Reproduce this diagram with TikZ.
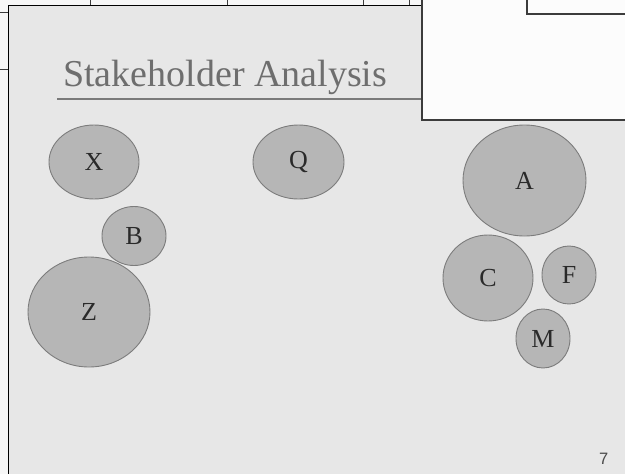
\documentclass[tikz,border=0pt]{standalone}
\usepackage{fontspec}
\setmainfont{Liberation Serif}
\newfontfamily\pagenumfont{Liberation Sans}
\usetikzlibrary{shapes.geometric}
\definecolor{slidebg}{HTML}{E7E7E7}
\definecolor{paperbg}{HTML}{F7F7F7}
\definecolor{winbg}{HTML}{FCFCFC}
\definecolor{framecol}{HTML}{3C3C3C}
\definecolor{bubblefill}{HTML}{B6B6B6}
\definecolor{bubbleline}{HTML}{7C7C7C}
\definecolor{titlecol}{HTML}{6E6E6E}
\definecolor{rulecol}{HTML}{7A7A7A}
\definecolor{labelcol}{HTML}{2A2A2A}
\tikzset{
  bubble/.style={ellipse, draw=bubbleline, line width=0.9pt, fill=bubblefill,
    inner sep=0pt, text=labelcol, font=\fontsize{26}{26}\selectfont},
  frameline/.style={draw=framecol, line width=1.1pt},
}
\begin{document}
\begin{tikzpicture}[x=1pt, y=-1pt]
\useasboundingbox (0,0) rectangle (625,474);
% window background behind the slide
\fill[paperbg] (0,0) rectangle (625,474);
% table grid peeking out above the slide
\foreach \gx in {90,227,363,409}
  \draw[framecol, line width=0.8pt] (\gx,0) -- (\gx,5);
\draw[framecol, line width=0.8pt] (0,12) -- (8,12);
\draw[framecol, line width=0.8pt] (0,69) -- (8,69);
% slide
\fill[slidebg] (8,5) rectangle (625,474);
\draw[black, line width=1pt] (8,474) -- (8,5) -- (422,5);
% title and rule
\node[anchor=base west, inner sep=0pt, text=titlecol,
      font=\fontsize{38}{38}\selectfont] (title) at (63,86) {Stakeholder Analysis};
\fill[rulecol] (57,97.5) rectangle (422,99.5);
% stakeholder bubbles
\node[bubble, minimum width=90pt, minimum height=74pt] (X) at (94,162) {X};
\node[bubble, minimum width=91pt, minimum height=74pt] (Q) at (298.5,162) {Q};
\node[bubble, minimum width=64pt, minimum height=59pt] (B) at (134,236) {B};
\node[bubble, minimum width=122pt, minimum height=110pt] (Z) at (89,312) {Z};
\node[bubble, minimum width=123pt, minimum height=111pt] (A) at (524.5,180.5) {A};
\node[bubble, minimum width=90pt, minimum height=86pt] (C) at (488,278) {C};
\node[bubble, minimum width=54pt, minimum height=58pt] (F) at (569,275) {F};
\node[bubble, minimum width=54pt, minimum height=59pt] (M) at (543,338.5) {M};
% page number
\node[anchor=base east, inner sep=0pt, text=labelcol!85,
      font=\pagenumfont\fontsize{16.5}{16.5}\selectfont] (pagenum) at (608.5,464) {7};
% window overlapping the top right corner
\fill[winbg] (422,0) rectangle (625,120);
\draw[frameline] (422,0) -- (422,120) -- (625,120);
\draw[frameline] (527,0) -- (527,14) -- (625,14);
\end{tikzpicture}
\end{document}
